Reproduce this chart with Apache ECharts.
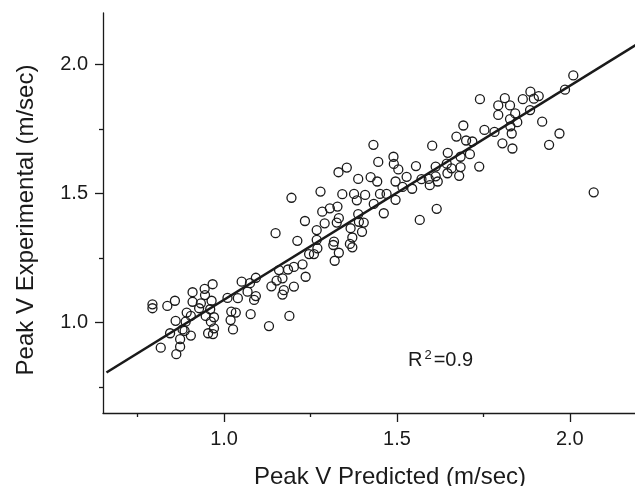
<!DOCTYPE html>
<html>
<head>
<meta charset="utf-8">
<script src="https://cdn.jsdelivr.net/npm/echarts@6/dist/echarts.min.js"></script>
<style>
  html, body { margin: 0; padding: 0; background: #fff; }
  #chart { width: 635px; height: 486px; }
</style>
</head>
<body>
<div id="chart"></div>
<script>
// peak V predicted (x) vs experimental (y)
const predicted = [
  0.793, 0.793, 0.836, 0.858, 0.909, 0.944, 0.967, 0.945, 0.909, 0.933,
  0.964, 0.928, 0.960, 0.892, 0.904, 0.947, 0.971, 0.860, 0.889, 0.880,
  0.844, 0.904, 0.873, 0.873, 0.817, 0.862, 0.962, 0.971, 0.954, 0.968, 0.886,
  1.010, 1.021, 1.034, 1.019, 1.026, 1.051, 1.075, 1.092, 1.040, 1.068,
  1.087, 1.077, 1.130, 1.137, 1.152, 1.159, 1.169, 1.173, 1.169, 1.185,
  1.202, 1.202, 1.189, 1.227, 1.236, 1.212, 1.246, 1.260, 1.149, 1.234,
  1.268, 1.291, 1.284, 1.268, 1.270, 1.195, 1.279,
  1.306, 1.328, 1.332, 1.326, 1.342, 1.331, 1.355, 1.376, 1.384, 1.408,
  1.388, 1.424, 1.443, 1.496, 1.451, 1.470, 1.496, 1.433, 1.462, 1.388,
  1.390, 1.404, 1.366, 1.399, 1.371, 1.318, 1.316, 1.364, 1.371, 1.332,
  1.320, 1.432, 1.490, 1.446, 1.491, 1.504,
  1.740, 1.692, 1.672, 1.700, 1.718, 1.753, 1.602, 1.647, 1.711, 1.684,
  1.555, 1.612, 1.644, 1.658, 1.684, 1.738, 1.646, 1.680, 1.528, 1.571,
  1.592, 1.612, 1.618, 1.595, 1.516, 1.544, 1.615, 1.566,
  2.010, 1.986, 1.886, 1.910, 1.896, 1.864, 1.812, 1.793, 1.827, 1.842,
  1.885, 1.793, 1.827, 1.848, 1.920, 1.828, 1.782, 1.832, 1.970, 1.805,
  1.940, 1.834, 2.069, 1.092
]
const experimental = [
  1.071, 1.056, 1.065, 1.085, 1.118, 1.131, 1.149, 1.107, 1.081, 1.075,
  1.085, 1.056, 1.052, 1.039, 1.026, 1.026, 1.021, 1.007, 1.004, 0.974,
  0.959, 0.950, 0.936, 0.907, 0.903, 0.878, 1.004, 0.978, 0.959, 0.956, 0.968,
  1.096, 1.043, 1.039, 1.010, 0.974, 1.159, 1.153, 1.174, 1.095, 1.120,
  1.088, 1.033, 0.987, 1.141, 1.163, 1.204, 1.172, 1.126, 1.109, 1.206,
  1.216, 1.140, 1.026, 1.226, 1.178, 1.317, 1.266, 1.266, 1.347, 1.394,
  1.359, 1.385, 1.430, 1.321, 1.288, 1.484, 1.508,
  1.443, 1.450, 1.405, 1.388, 1.498, 1.583, 1.601, 1.499, 1.474, 1.495,
  1.557, 1.564, 1.547, 1.547, 1.499, 1.499, 1.476, 1.460, 1.424, 1.421,
  1.391, 1.388, 1.366, 1.352, 1.330, 1.314, 1.301, 1.305, 1.292, 1.271,
  1.240, 1.689, 1.643, 1.623, 1.615, 1.594,
  1.866, 1.764, 1.721, 1.706, 1.702, 1.747, 1.686, 1.658, 1.653, 1.643,
  1.607, 1.605, 1.616, 1.598, 1.603, 1.605, 1.579, 1.569, 1.565, 1.556,
  1.557, 1.567, 1.547, 1.533, 1.526, 1.519, 1.441, 1.398,
  1.958, 1.903, 1.895, 1.878, 1.868, 1.866, 1.870, 1.842, 1.842, 1.811,
  1.824, 1.805, 1.789, 1.777, 1.779, 1.761, 1.739, 1.733, 1.733, 1.695,
  1.689, 1.675, 1.505, 1.103
]
// regression line end points
const fitX = [0.66, 2.2]
const fitY = [0.807, 2.084]

const majorTicks = [1.0, 1.5, 2.0]
const minorTicks = [0.75, 1.25, 1.75]
const tickLabels = ['1.0', '1.5', '2.0']

const FONT = '"Liberation Sans", Arial, Helvetica, sans-serif'
const INK = '#1a1a1a'

const points = predicted.map((x, i) => [x, experimental[i]])
const fitLine = fitX.map((x, i) => [x, fitY[i]])

const fmt = v => {
  const i = majorTicks.findIndex(t => Math.abs(t - v) < 1e-6)
  return i >= 0 ? tickLabels[i] : ''
}

const axisBase = {
  type: 'value',
  min: 0.65,
  max: 2.2,
  splitLine: { show: false },
  axisLine: { show: true, onZero: false, lineStyle: { color: INK, width: 1.3 } }
}

const myChart = echarts.init(document.getElementById('chart'), null, { renderer: 'canvas' })

const option = {
  animation: false,
  backgroundColor: '#fff',
  textStyle: { fontFamily: FONT },
  grid: { left: 103, top: 13, width: 536, height: 400, outerBoundsMode: 'none', containLabel: false },
  xAxis: [
    Object.assign({}, axisBase, {
      position: 'bottom',
      name: 'Peak V Predicted (m/sec)',
      nameLocation: 'middle',
      nameGap: 52,
      nameTextStyle: { fontSize: 24, color: INK, fontFamily: FONT, padding: [0, 0, 0, 38] },
      axisTick: { show: true, length: 9, customValues: majorTicks, lineStyle: { color: INK, width: 1.3 } },
      axisLabel: { show: true, margin: 16, fontSize: 20, color: INK, fontFamily: FONT, customValues: majorTicks, formatter: fmt }
    }),
    Object.assign({}, axisBase, {
      position: 'bottom',
      axisLine: { show: false },
      axisTick: { show: true, length: 4, customValues: minorTicks, lineStyle: { color: INK, width: 1.3 } },
      axisLabel: { show: false }
    })
  ],
  yAxis: [
    Object.assign({}, axisBase, {
      position: 'left',
      name: 'Peak V Experimental (m/sec)',
      nameLocation: 'middle',
      nameGap: 65,
      nameTextStyle: { fontSize: 24, color: INK, fontFamily: FONT, padding: [0, 14, 0, 0] },
      axisTick: { show: true, length: 8, customValues: majorTicks, lineStyle: { color: INK, width: 1.3 } },
      axisLabel: { show: true, margin: 15, fontSize: 20, color: INK, fontFamily: FONT, customValues: majorTicks, formatter: fmt }
    }),
    Object.assign({}, axisBase, {
      position: 'left',
      axisLine: { show: false },
      axisTick: { show: true, length: 4, customValues: minorTicks, lineStyle: { color: INK, width: 1.3 } },
      axisLabel: { show: false }
    })
  ],
  graphic: [{
    type: 'text',
    left: 408,
    top: 349,
    style: {
      text: 'R{sup|2}=0.9',
      fontSize: 20,
      fontFamily: FONT,
      fill: INK,
      rich: {
        sup: { fontSize: 13, fontFamily: FONT, fill: INK, padding: [0, 2, 9, 2] }
      }
    }
  }],
  series: [
    {
      type: 'scatter',
      data: points,
      symbol: 'circle',
      symbolSize: 9,
      itemStyle: { color: 'rgba(255,255,255,0)', borderColor: INK, borderWidth: 1.3, opacity: 1 },
      z: 2
    },
    {
      type: 'line',
      data: fitLine,
      showSymbol: false,
      symbol: 'none',
      lineStyle: { color: INK, width: 2.6 },
      z: 3
    }
  ]
}

myChart.setOption(option)
</script>
</body>
</html>
